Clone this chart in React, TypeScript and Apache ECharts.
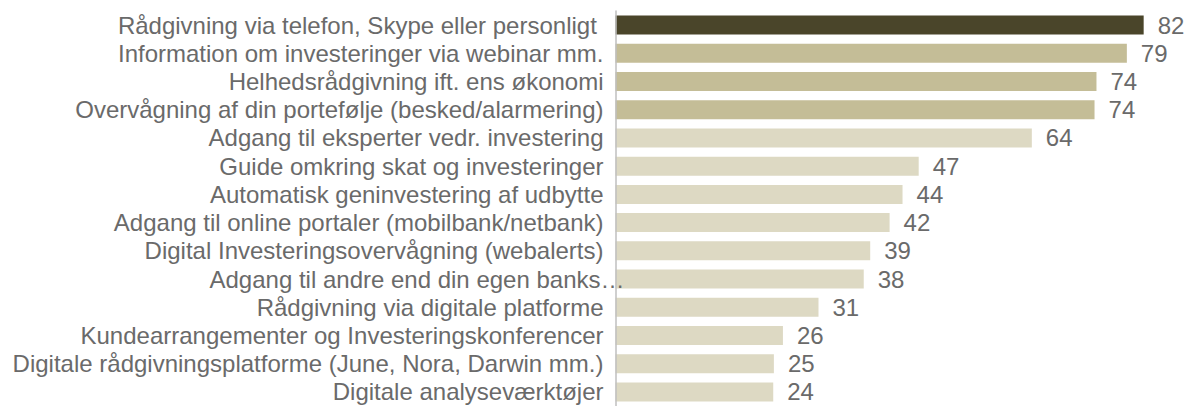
import React, { useEffect, useRef } from "react";
import * as echarts from "echarts";

const categories = [
  "Rådgivning via telefon, Skype eller personligt ",
  "Information om investeringer via webinar mm.",
  "Helhedsrådgivning ift. ens økonomi",
  "Overvågning af din portefølje (besked/alarmering)",
  "Adgang til eksperter vedr. investering",
  "Guide omkring skat og investeringer",
  "Automatisk geninvestering af udbytte",
  "Adgang til online portaler (mobilbank/netbank)",
  "Digital Investeringsovervågning (webalerts)",
  "Adgang til andre end din egen banks…",
  "Rådgivning via digitale platforme",
  "Kundearrangementer og Investeringskonferencer",
  "Digitale rådgivningsplatforme (June, Nora, Darwin mm.)",
  "Digitale analyseværktøjer",
];

const values = [81.7, 79.1, 74.4, 74.1, 64.4, 46.9, 44.4, 42.4, 39.4, 38.4, 31.4, 25.9, 24.5, 24.4];

const overflowLabel = "Adgang til andre end din egen banks…";

const DARK = "#4A452A";
const MEDIUM = "#C4BD97";
const LIGHT = "#DDD9C3";
const TEXT = "#6A6A6A";
const FONT = "'Liberation Sans', Arial, sans-serif";

export default function App() {
  const ref = useRef<HTMLDivElement>(null);
  useEffect(() => {
    if (!ref.current) return;
    const chart = echarts.init(ref.current, undefined, { renderer: "svg" });
    chart.setOption({
      animation: false,
      grid: { left: 615.5, top: 11, height: 397.7, width: 549.5, containLabel: false },
      xAxis: {
        type: "value",
        min: 0,
        max: 85,
        show: false,
      },
      yAxis: [
        {
          type: "category",
          data: categories,
          inverse: true,
          z: 5,
          axisLine: { show: true, lineStyle: { color: "#BFBFBF", width: 1.5 } },
          axisTick: { show: false },
          axisLabel: {
            margin: 12,
            fontSize: 24,
            color: TEXT,
            fontFamily: FONT,
            interval: 0,
            formatter: (v: string) => (v === overflowLabel ? "" : v),
          },
        },
        {
          type: "category",
          data: categories,
          inverse: true,
          position: "left",
          z: 10,
          axisLine: { show: false },
          axisTick: { show: false },
          axisLabel: {
            margin: -9,
            fontSize: 24,
            color: TEXT,
            fontFamily: FONT,
            interval: 0,
            formatter: (v: string) => (v === overflowLabel ? v : ""),
          },
        },
      ],
      series: [
        {
          type: "bar",
          yAxisIndex: 0,
          barWidth: 19,
          z: 2,
          data: values.map((v, i) => ({
            value: v,
            itemStyle: { color: i === 0 ? DARK : i < 4 ? MEDIUM : LIGHT },
          })),
          label: {
            show: true,
            position: "right",
            distance: 14,
            fontSize: 24,
            color: TEXT,
            fontFamily: FONT,
            formatter: (p: any) => String(Math.round(p.value)),
          },
        },
      ],
    });
    return () => chart.dispose();
  }, []);
  return (
    <div
      ref={ref}
      style={{ position: "absolute", left: 0, top: 0, width: 1186, height: 406 }}
    />
  );
}
